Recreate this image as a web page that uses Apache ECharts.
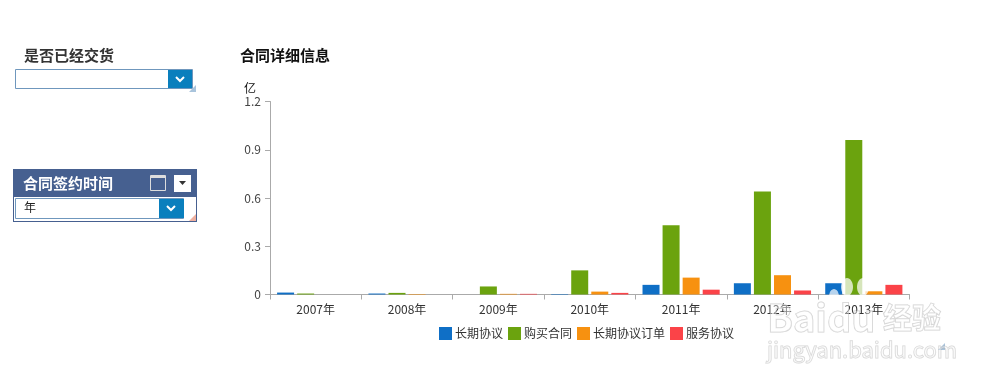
<!DOCTYPE html>
<html><head><meta charset="utf-8">
<style>html,body{margin:0;padding:0;background:#fff}#c{width:999px;height:384px}</style>
<script src="https://cdn.jsdelivr.net/npm/echarts@6/dist/echarts.min.js"></script>
</head><body><div id="c"></div>
<script>
const categories = ['2007年','2008年','2009年','2010年','2011年','2012年','2013年'];
const changqi = [0.012,0.006,0,0.003,0.06,0.07,0.07];
const goumai = [0.006,0.01,0.05,0.15,0.43,0.64,0.96];
const dingdan = [0,0.003,0.004,0.018,0.105,0.12,0.02];
const fuwu = [0,0,0.004,0.01,0.03,0.025,0.06];
const seriesNames = ['长期协议','购买合同','长期协议订单','服务协议'];
const seriesColors = ['#0f6fc6','#6ba30e','#f79110','#fb4348'];
const seriesValues = [changqi,goumai,dingdan,fuwu];
const F = '"Noto Sans CJK SC","Noto Sans",sans-serif';
const chart = echarts.init(document.getElementById('c'),null,{renderer:'canvas'});
function text(x,y,t,size,color,weight,stroke){return {type:'text',x,y,z:10,style:{text:t,font:(weight||'normal')+' '+size+'px '+F,fill:color,stroke:stroke||null,lineWidth:stroke?1:0,textVerticalAlign:'middle'}};}
function rect(x,y,w,h,fill,stroke){return {type:'rect',z:5,shape:{x,y,width:w,height:h},style:{fill,stroke:stroke||null,lineWidth:1}};}
function chevron(cx,cy,color){return {type:'polyline',z:8,shape:{points:[[cx-4,cy-2],[cx,cy+2],[cx+4,cy-2]]},style:{stroke:color,lineWidth:2,fill:null}};}
function grip(x,y,color){return {type:'polygon',z:8,shape:{points:[[x,y+7],[x+7,y],[x+7,y+7]]},style:{fill:color}};}
chart.setOption({
  animation:false,
  textStyle:{fontFamily:F},
  grid:{left:270,right:89.5,top:101.5,bottom:89.5,containLabel:false},
  legend:{left:434,top:322,itemWidth:13,itemHeight:13,itemGap:5,icon:'rect',
    textStyle:{fontSize:12,color:'#333',fontFamily:F,padding:[0,0,0,-2]},data:seriesNames},
  xAxis:{type:'category',data:categories,
    axisLine:{lineStyle:{color:'#aaa',width:1}},
    axisTick:{show:true,length:5,lineStyle:{color:'#aaa'},alignWithLabel:false},
    axisLabel:{fontSize:12,color:'#333',margin:9,fontFamily:F}},
  yAxis:{type:'value',min:0,max:1.2,interval:0.3,
    axisLine:{show:true,lineStyle:{color:'#aaa',width:1}},
    axisTick:{show:true,length:5,lineStyle:{color:'#aaa'}},
    splitLine:{show:false},
    axisLabel:{fontSize:12,color:'#444',margin:9,fontFamily:F,formatter:v=>String(v)}},
  series:seriesNames.map((n,i)=>({name:n,type:'bar',data:seriesValues[i],barWidth:17,barGap:'18%',
    itemStyle:{color:seriesColors[i]}})),
  graphic:[
    text(24,55,'是否已经交货',15,'#333','bold'),
    text(240,55,'合同详细信息',15,'#111','bold'),
    text(244,88,'亿',12,'#111'),
    rect(15.5,69.5,177,19,'#fff','#6f97bd'),
    rect(168,70,24,18,'#0a7fbd'),
    chevron(180,79,'#fff'),
    grip(189,85,'#a9c4dc'),
    rect(13,169,184,53,'#466090'),
    rect(14,197,182,24,'#fff'),
    rect(15.5,198.5,168,20,'#fff','#6f97bd'),
    rect(159,199,25,19,'#0a7fbd'),
    chevron(171,208,'#fff'),
    grip(189,214,'#eeb0a0'),
    text(23,183,'合同签约时间',15,'#fff','bold'),
    rect(150.5,175.5,15,15,'#466090','#ddd'),
    rect(151,176,14,2,'#ddd'),
    rect(174,175,17,17,'#fff'),
    {type:'polygon',z:8,shape:{points:[[179,181],[186,181],[182.5,185]]},style:{fill:'#333'}},
    text(24,207,'年',12,'#222'),
    grip(938,343,'#a9c4dc'),
    text(767,318,'Baidu',38,'rgba(255,255,255,0.4)','bold','rgba(170,170,170,0.55)'),
    text(883,318,'经验',29,'rgba(255,255,255,0.4)','bold','rgba(170,170,170,0.55)'),
    text(767,350,'jingyan.baidu.com',22,'rgba(255,255,255,0.4)','normal','rgba(170,170,170,0.5)'),
    {type:'ellipse',z:9,shape:{cx:847,cy:287,rx:6,ry:9},style:{fill:'rgba(255,255,255,0.72)'}},
    {type:'ellipse',z:9,shape:{cx:863,cy:287,rx:6,ry:9},style:{fill:'rgba(255,255,255,0.72)'}},
    {type:'ellipse',z:9,shape:{cx:834,cy:297,rx:5,ry:8},style:{fill:'rgba(255,255,255,0.7)'}},
  ]
});
</script></body></html>
